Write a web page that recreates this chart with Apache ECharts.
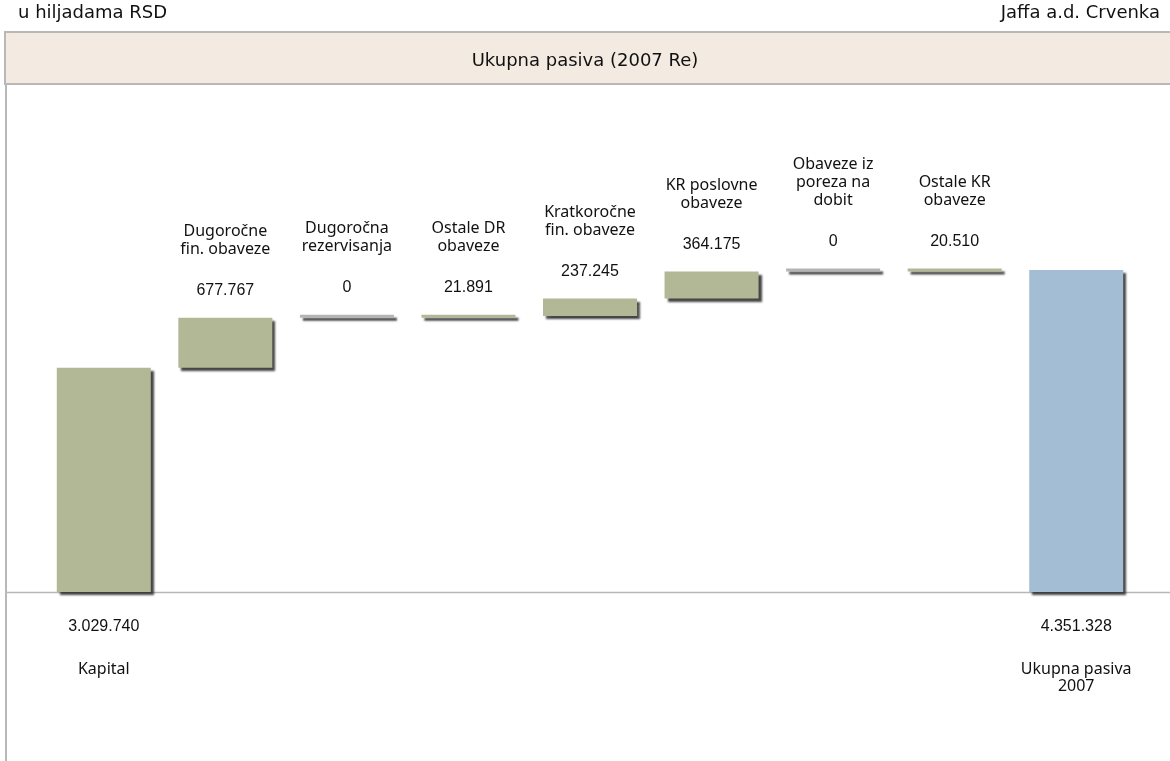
<!DOCTYPE html>
<html>
<head>
<meta charset="utf-8">
<script src="https://cdn.jsdelivr.net/npm/echarts@6/dist/echarts.min.js"></script>
<style>
  html, body { margin: 0; padding: 0; background: #fff; }
  #main { width: 1170px; height: 761px; }
</style>
</head>
<body>
<div id="main"></div>
<script>
// kategorije i vrijednosti (u hiljadama RSD)
var categories = ['Kapital', 'Dugoročne\nfin. obaveze', 'Dugoročna\nrezervisanja', 'Ostale DR\nobaveze',
  'Kratkoročne\nfin. obaveze', 'KR poslovne\nobaveze', 'Obaveze iz\nporeza na\ndobit', 'Ostale KR\nobaveze', 'Ukupna pasiva\n2007'];
var steps = [3029740, 677767, 0, 21891, 237245, 364175, 0, 20510];
var total = 4351328;

var green = '#b2b796';
var blue = '#a3bdd5';

function fmt(v) {
  return String(v).replace(/\B(?=(\d{3})+(?!\d))/g, '.');
}

var chart = echarts.init(document.getElementById('main'));

var baseData = [];
var barData = [];
var acc = 0;
for (var i = 0; i < categories.length; i++) {
  var isEnd = (i === 0 || i === categories.length - 1);
  var val = (i === categories.length - 1) ? total : steps[i];
  var base = isEnd ? 0 : acc;
  if (i < steps.length) acc += steps[i];
  baseData.push(base);
  var color = i === categories.length - 1 ? blue : (val === 0 ? '#b4b4b4' : green);
  var lines = categories[i].split('\n');
  barData.push({
    value: val,
    itemStyle: { color: color },
    label: isEnd ? {
      position: 'bottom',
      distance: 26,
      formatter: '{v|' + fmt(val) + '}\n{s2|}\n' + lines.map(function (s) { return '{b|' + s + '}'; }).join('\n')
    } : {
      position: 'top',
      distance: 18,
      formatter: lines.map(function (s) { return '{c|' + s + '}'; }).join('\n') + '\n{s|}\n{v|' + fmt(val) + '}'
    }
  });
}

var option = {
  animation: false,
  backgroundColor: '#ffffff',
  title: {
    text: 'Ukupna pasiva (2007 Re)',
    left: 'center',
    top: 47,
    textStyle: { fontFamily: 'DejaVu Sans', fontSize: 18, fontWeight: 'normal', color: '#111' }
  },
  graphic: [
    { type: 'text', left: 18, top: 4, style: { text: 'u hiljadama RSD', font: '18px "DejaVu Sans"', fill: '#111' } },
    { type: 'text', right: 10, top: 4, style: { text: 'Jaffa a.d. Crvenka', font: '18px "DejaVu Sans"', fill: '#111' } },
    { type: 'rect', z: -1, shape: { x: 5, y: 32, width: 1170, height: 52 },
      style: { fill: '#f3ebe2', stroke: '#b8b8b8', lineWidth: 2 } },
    { type: 'line', shape: { x1: 6, y1: 84, x2: 6, y2: 761 }, style: { stroke: '#b8b8b8', lineWidth: 2 } },
    { type: 'line', shape: { x1: 6, y1: 592.5, x2: 1170, y2: 592.5 }, style: { stroke: '#b8b8b8', lineWidth: 1.5 } }
  ],
  grid: { left: 43, right: 33, top: 100, bottom: 169 },
  xAxis: {
    type: 'category',
    data: categories,
    axisLine: { show: false },
    axisTick: { show: false },
    axisLabel: { show: false }
  },
  yAxis: {
    type: 'value',
    min: 0,
    max: 6650000,
    show: false,
    splitLine: { show: false }
  },
  series: [
    {
      type: 'bar',
      stack: 'w',
      silent: true,
      itemStyle: { color: 'transparent' },
      data: baseData
    },
    {
      type: 'bar',
      stack: 'w',
      barWidth: 94,
      barMinHeight: 3,
      itemStyle: {
        shadowColor: 'rgba(50,50,50,0.9)',
        shadowBlur: 2,
        shadowOffsetX: 3,
        shadowOffsetY: 3
      },
      label: {
        show: true,
        color: '#111',
        align: 'center',
        rich: {
          c: { fontFamily: 'Noto Sans', fontSize: 16, lineHeight: 18, color: '#111', align: 'center' },
          b: { fontFamily: 'Noto Sans', fontSize: 16, lineHeight: 17, color: '#111', align: 'center' },
          v: { fontFamily: 'Liberation Sans', fontSize: 16, lineHeight: 18, color: '#111', align: 'center' },
          s: { lineHeight: 23, fontSize: 4 },
          s2: { lineHeight: 25, fontSize: 4 }
        }
      },
      data: barData
    }
  ]
};

chart.setOption(option);
</script>
</body>
</html>
